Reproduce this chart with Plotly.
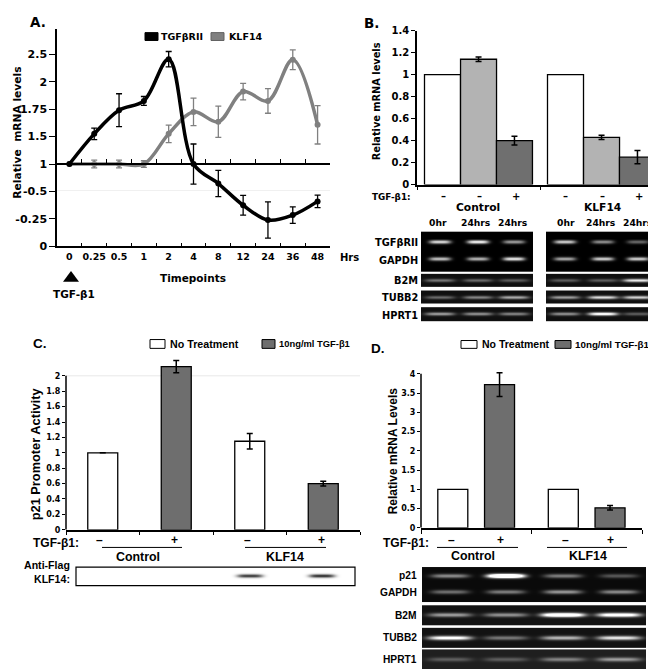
import numpy as np
import plotly.graph_objects as go

W, H = 656, 669
FA = "DejaVu Sans"
FC = "Liberation Sans, Arial, sans-serif"

# ---------------- data ----------------
# Panel A (values in plotted axis units; tick labels as printed on the figure)
timepoints = ["0", "0.25", "0.5", "1", "2", "4", "8", "12", "24", "36", "48"]
a_tick_vals = [0, 1, 2, 3, 4, 5, 6, 7]
a_tick_text = ["0", "-0.25", "-0.5", "1", "1.5", "1.75", "2", "2.5"]
tgfbr2_level = [3.0, 4.1, 4.96, 5.3, 6.82, 3.0, 2.29, 1.5, 0.96, 1.14, 1.64]
tgfbr2_err = [0, 0.21, 0.6, 0.16, 0.28, 0.73, 0.48, 0.36, 0.66, 0.3, 0.23]
klf14_level = [3.0, 3.0, 3.0, 3.0, 4.1, 4.9, 4.54, 5.64, 5.3, 6.8, 4.43]
klf14_err = [0, 0.14, 0.14, 0.12, 0.32, 0.5, 0.57, 0.3, 0.45, 0.36, 0.7]

# Panel B
b_groups = ["Control", "KLF14"]
b_0hr = [1.0, 1.0]
b_24hr_minus = [1.14, 0.43]
b_24hr_minus_err = [0.02, 0.02]
b_24hr_plus = [0.40, 0.25]
b_24hr_plus_err = [0.04, 0.06]
b_lane_time = ["0hr", "24hrs", "24hrs"]
b_lane_tgf = ["–", "–", "+"]
# gel band intensities (rows x lanes)
b_gel_top_ctrl = [[0.85, 0.95, 0.6], [0.75, 0.7, 0.9]]      # TGFβRII, GAPDH
b_gel_top_klf = [[0.8, 0.55, 0.4], [0.65, 0.8, 0.8]]
b_strip_genes = ["B2M", "TUBB2", "HPRT1"]
b_strip_ctrl = [[0.4, 0.35, 0.3], [0.35, 0.45, 0.6], [0.55, 0.5, 0.45]]
b_strip_klf = [[0.3, 0.3, 0.85], [0.55, 0.8, 0.75], [0.5, 1.0, 0.3]]

# Panel C
c_cats = ["Control −", "Control +", "KLF14 −", "KLF14 +"]
c_ticks = [0, 0.2, 0.4, 0.6, 0.8, 1, 1.2, 1.4, 1.6, 1.8, 2]
c_no_treat = [1.0, None, 1.15, None]
c_no_treat_err = [None, None, 0.1, None]
c_tgf = [None, 2.12, None, 0.60]
c_tgf_err = [None, 0.08, None, 0.03]
c_blot = [0.0, 0.0, 0.85, 0.9]

# Panel D
d_groups = ["Control", "KLF14"]
d_ticks = [0, 0.5, 1, 1.5, 2, 2.5, 3, 3.5, 4]
d_no_treat = [1.0, 1.0]
d_tgf = [3.72, 0.52]
d_tgf_err = [0.31, 0.06]
d_gel_top = [[0.5, 1.6, 0.45, 0.3], [0.4, 0.45, 0.55, 0.5]]   # p21, GAPDH
d_strip_genes = ["B2M", "TUBB2", "HPRT1"]
d_strips = [[0.55, 0.5, 1.3, 1.1], [1.0, 0.4, 0.65, 0.85], [0.25, 0.25, 0.4, 0.5]]


def px(x):
    return x / W


def py(y):
    return 1 - y / H


fig = go.Figure()
annotations = []
shapes = []


def ann(text, x, y, size, family=FC, xanchor="center", yanchor="middle", angle=0):
    annotations.append(dict(text=text, x=px(x), y=py(y), xref="paper", yref="paper",
                            showarrow=False, xanchor=xanchor, yanchor=yanchor, textangle=angle,
                            borderpad=0,
                            font=dict(size=size, family=family, color="black", weight="bold")))


def rect(x0, y0, x1, y1, fill="white", line="black", lw=1):
    shapes.append(dict(type="rect", xref="paper", yref="paper", x0=px(x0), x1=px(x1),
                       y0=py(y1), y1=py(y0), fillcolor=fill, line=dict(color=line, width=lw)))


def hline(x0, x1, y, color="black", lw=1):
    shapes.append(dict(type="line", xref="paper", yref="paper", x0=px(x0), x1=px(x1),
                       y0=py(y), y1=py(y), line=dict(color=color, width=lw)))


# ---------------- Panel A ----------------
fig.add_trace(go.Scatter(
    x=timepoints, y=klf14_level, mode="lines+markers", name="KLF14",
    line=dict(color="#808080", width=3.5, shape="spline", smoothing=1.0),
    marker=dict(size=6, color="#808080"),
    error_y=dict(type="data", array=klf14_err, color="#808080", thickness=1.3, width=3),
    xaxis="x", yaxis="y", showlegend=False))
fig.add_trace(go.Scatter(
    x=timepoints, y=tgfbr2_level, mode="lines+markers", name="TGFβRII",
    line=dict(color="black", width=3.5, shape="spline", smoothing=1.0),
    marker=dict(size=6, color="black"),
    error_y=dict(type="data", array=tgfbr2_err, color="black", thickness=1.3, width=3),
    xaxis="x", yaxis="y", showlegend=False))
fig.add_trace(go.Scatter(x=timepoints, y=[None] * len(timepoints), xaxis="x2", yaxis="y",
                         showlegend=False, hoverinfo="skip", mode="markers"))

# ---------------- Panel B ----------------
b_w = 0.2927
for vals, errs, col, off in [(b_0hr, None, "white", -0.439),
                             (b_24hr_minus, b_24hr_minus_err, "#b3b3b3", -0.146),
                             (b_24hr_plus, b_24hr_plus_err, "#6f6f6f", 0.146)]:
    fig.add_trace(go.Bar(
        x=b_groups, y=vals, width=b_w, offset=off, xaxis="x3", yaxis="y3",
        marker=dict(color=col, line=dict(color="black", width=1.3)),
        error_y=dict(type="data", array=errs, color="black", thickness=1.5, width=3,
                     visible=errs is not None),
        showlegend=False))

# ---------------- Panel C ----------------
for vals, errs, col in [(c_no_treat, c_no_treat_err, "white"), (c_tgf, c_tgf_err, "#6e6e6e")]:
    fig.add_trace(go.Bar(
        x=c_cats, y=vals, width=0.408, offset=-0.204, xaxis="x4", yaxis="y4",
        marker=dict(color=col, line=dict(color="black", width=1.3)),
        error_y=dict(type="data", array=errs, color="black", thickness=1.5, width=3),
        showlegend=False))

# ---------------- Panel D ----------------
for vals, errs, col, off in [(d_no_treat, None, "white", -0.348), (d_tgf, d_tgf_err, "#6e6e6e", 0.075)]:
    fig.add_trace(go.Bar(
        x=d_groups, y=vals, width=0.2715, offset=off, xaxis="x5", yaxis="y5",
        marker=dict(color=col, line=dict(color="black", width=1.3)),
        error_y=dict(type="data", array=errs, color="black", thickness=1.5, width=3,
                     visible=errs is not None),
        showlegend=False))


# ---------------- gels (heatmaps on a pixel-space overlay axis) ----------------
def gel(x0, x1, y0, y1, lanes, rows, inten, hw, hh, bg, scale=None):
    xs = np.arange(x0, x1) + 0.5
    ys = np.arange(y0, y1) + 0.5
    X, Y = np.meshgrid(xs, ys)
    Z = np.full(X.shape, float(bg))
    for r, row in zip(rows, inten):
        for lx, I in zip(lanes, row):
            Z += I * np.exp(-((X - lx) / hw) ** 4) * np.exp(-((Y - r) / hh) ** 2)
    Z = np.clip(Z, 0, 1)
    fig.add_trace(go.Heatmap(
        x=xs, y=ys, z=Z, zmin=0, zmax=1, showscale=False, hoverinfo="skip",
        colorscale=scale or [[0, "#000000"], [1, "#ffffff"]],
        xaxis="x6", yaxis="y6"))


# B gels
b_lanes_ctrl = [432, 470, 506]
b_lanes_klf = [557, 595, 630]
gel(413, 525, 222, 263, b_lanes_ctrl, [233, 250], b_gel_top_ctrl, 11, 1.9, 0.0)
gel(538, 650, 222, 263, b_lanes_klf, [233, 250], b_gel_top_klf, 11, 1.9, 0.0)
b_strip_y = [(265, 278), (282, 295), (299, 313)]
for (s0, s1), ic, ik in zip(b_strip_y, b_strip_ctrl, b_strip_klf):
    c = (s0 + s1) / 2
    gel(413, 525, s0, s1, b_lanes_ctrl, [c], [ic], 15, 1.7, 0.06)
    gel(538, 650, s0, s1, b_lanes_klf, [c], [ik], 15, 1.7, 0.06)

# D gels
d_lanes = [442, 498, 555, 611]
gel(414, 638, 564, 600, d_lanes, [573, 590], d_gel_top, 19, 2.1, 0.04)
d_strip_y = [(603, 623), (626, 646), (648, 669)]
d_bg = [0.07, 0.07, 0.12]
for (s0, s1), iv, bg in zip(d_strip_y, d_strips, d_bg):
    gel(414, 638, s0, s1, d_lanes, [(s0 + s1) / 2], [iv], 22, 2.1, bg)

# C western blot (white background, dark bands)
gel(69, 347, 565, 583, [94, 168, 242, 314], [573], [c_blot], 13, 1.8, 0.0,
    scale=[[0, "#ffffff"], [1, "#1a1a1a"]])
rect(68, 564, 347, 583, fill="rgba(0,0,0,0)", lw=1.2)

# ---------------- layout axes ----------------
tick_font_A = dict(family=FA, size=11, color="black", weight="bold")
common = dict(showgrid=False, zeroline=False, linecolor="black", linewidth=1.5,
              tickcolor="black", tickwidth=1.2)

# C and D: bars exceed the labelled range, so axis range is a bit taller than the drawn axis line
c_top = 2.22
d_top = 4.1
layout_axes = dict(
    xaxis=dict(domain=[px(49), px(322)], anchor="y", type="category", categoryarray=timepoints,
               categoryorder="array", range=[-0.5, 10.5], showline=True, ticks="inside",
               tickson="boundaries", ticklen=4, tickangle=0,
               tickfont=dict(family=FA, size=9.5, color="black", weight="bold"), **common),
    xaxis2=dict(domain=[px(49), px(322)], anchor="free", overlaying="x", position=py(153),
                type="category", categoryarray=timepoints, categoryorder="array",
                range=[-0.5, 10.5], showline=True, ticks="inside", tickson="boundaries",
                ticklen=4, showticklabels=False, **common),
    yaxis=dict(domain=[py(237), py(15)], anchor="x", range=[0, 7.93], tickvals=a_tick_vals,
               ticktext=a_tick_text, showline=True, ticks="outside", ticklen=6,
               tickfont=tick_font_A, **common),
    xaxis3=dict(domain=[px(409), px(655)], anchor="y3", type="category", range=[-0.5, 1.5],
                showline=True, ticks="outside", tickson="boundaries", ticklen=4,
                showticklabels=False, **common),
    yaxis3=dict(domain=[py(174), py(17)], anchor="x3", range=[0, 1.4], dtick=0.2,
                showline=True, ticks="outside", ticklen=4, tickformat="~g",
                tickfont=dict(family=FA, size=10, color="black", weight="bold"), **common),
    xaxis4=dict(domain=[px(58), px(352)], anchor="y4", type="category", range=[-0.5, 3.5],
                showline=True, ticks="outside", tickson="boundaries", ticklen=3,
                showticklabels=False, **common),
    yaxis4=dict(domain=[py(526), py(526 - 78.5 * c_top)], anchor="x4", range=[0, c_top],
                tickvals=c_ticks, showline=False, ticks="outside", ticklen=3, tickformat="~g",
                tickfont=dict(family=FA, size=8, color="black", weight="bold"), **common),
    xaxis5=dict(domain=[px(413), px(634)], anchor="y5", type="category", range=[-0.5, 1.5],
                showline=True, ticks="outside", tickson="boundaries", ticklen=4,
                showticklabels=False, **common),
    yaxis5=dict(domain=[py(524), py(524 - 39.25 * d_top)], anchor="x5", range=[0, d_top],
                tickvals=d_ticks, showline=False, ticks="outside", ticklen=3, tickformat="~g",
                tickfont=dict(family=FA, size=8, color="black", weight="bold"), **common),
    xaxis6=dict(domain=[0, 1], anchor="y6", range=[0, W], visible=False, fixedrange=True),
    yaxis6=dict(domain=[0, 1], anchor="x6", range=[H, 0], visible=False, fixedrange=True),
)

# value axis lines for C and D (stop at the top labelled tick)
shapes.append(dict(type="line", xref="x4 domain", yref="y4", x0=0, x1=0, y0=0, y1=c_ticks[-1],
                   line=dict(color="black", width=1.5)))
shapes.append(dict(type="line", xref="x4 domain", yref="y4", x0=0, x1=1, y0=c_ticks[-1],
                   y1=c_ticks[-1], line=dict(color="#e8e8e8", width=1), layer="below"))
shapes.append(dict(type="line", xref="x5 domain", yref="y5", x0=0, x1=0, y0=0, y1=d_ticks[-1],
                   line=dict(color="black", width=1.5)))

# ---------------- Panel A texts ----------------
ann("A.", 30, 8, 13.5, FA)
rect(137, 19, 150, 27, fill="black")
ann("TGFβRII", 152, 23, 9.5, FA, xanchor="left")
rect(203, 19, 216, 27, fill="#808080", line="#606060")
ann("KLF14", 220, 23, 9.5, FA, xanchor="left")
ann("Relative\u00a0 mRNA levels", 10, 121, 10.7, FA, angle=-90)
ann("Hrs", 331, 248, 10, FA, xanchor="left")
ann("Timepoints", 185, 269, 10.5, FA)
shapes.append(dict(type="path", xref="paper", yref="paper",
                   path=f"M{px(55)},{py(273)} L{px(71)},{py(273)} L{px(63)},{py(262)} Z",
                   fillcolor="black", line=dict(color="black", width=0)))
ann("TGF-β1", 66, 286, 10.5, FA)
shapes.append(dict(type="line", xref="paper", yref="paper", x0=px(49), x1=px(322),
                   y0=py(180), y1=py(180), line=dict(color="#f0f0f0", width=1), layer="below"))

# ---------------- Panel B texts ----------------
ann("B.", 363, 9, 13.5, FA)
ann("Relative mRNA levels", 368, 89, 9.8, FA, angle=-90)
ann("TGF-β1:", 404, 187, 8.8, FA, xanchor="right")
b_sign_x = [435, 471, 508, 557, 594, 631]
for xx, s in zip(b_sign_x, b_lane_tgf * 2):
    ann(s, xx, 186, 10, FA)
ann("Control", 470, 197, 10.7, FA)
ann("KLF14", 594, 197, 10.7, FA)
b_time_x = [430, 468, 505, 558, 593, 630]
for xx, t in zip(b_time_x, b_lane_time * 2):
    ann(t, xx, 213, 9.2, FA)
for lab, yy in zip(["TGFβRII", "GAPDH"] + b_strip_genes, [233, 251, 272, 289, 307]):
    ann(lab, 411, yy, 9.8, FA, xanchor="right")

# ---------------- Panel C texts ----------------
ann("C.", 32, 336, 13.5, FC)
rect(142, 332, 157, 341)
ann("No Treatment", 161, 336.5, 10.7, FC, xanchor="left")
rect(254, 332, 267, 341, fill="#6e6e6e")
ann("10ng/ml TGF-β1", 270, 336.5, 9.4, FC, xanchor="left")
ann("p21 Promoter Activity", 27, 449, 12.8, FC, angle=-90)
ann("TGF-β1:", 48, 539, 12, FC)
for xx, s in zip([91, 166, 239, 313], ["–", "+", "–", "+"]):
    ann(s, xx, 536, 12, FC)
hline(94, 174, 544)
hline(237, 318, 544)
ann("Control", 130, 554, 12.4, FC)
ann("KLF14", 277, 554, 12.4, FC)
ann("Anti-Flag", 63, 562, 10.6, FC, xanchor="right")
ann("KLF14:", 63, 576, 10.6, FC, xanchor="right")

# ---------------- Panel D texts ----------------
ann("D.", 370, 341, 13.5, FC)
rect(453, 333, 469, 341)
ann("No Treatment", 473, 337, 10.5, FC, xanchor="left")
rect(547, 333, 563, 341, fill="#6e6e6e")
ann("10ng/ml TGF-β1", 566, 337, 9.8, FC, xanchor="left")
ann("Relative mRNA Levels", 385, 446, 12, FC, angle=-90)
ann("TGF-β1:", 398, 539, 12, FC)
for xx, s in zip([443, 492, 557, 602], ["–", "+", "–", "+"]):
    ann(s, xx, 536, 12, FC)
hline(429, 510, 544)
hline(539, 619, 544)
ann("Control", 465, 553, 12.4, FC)
ann("KLF14", 580, 553, 12.4, FC)
for lab, yy in zip(["p21", "GAPDH"] + d_strip_genes, [573, 590, 613, 636, 658]):
    ann(lab, 410, yy, 10.2, FC, xanchor="right")

fig.update_layout(
    width=W, height=H, margin=dict(l=0, r=0, t=0, b=0),
    paper_bgcolor="white", plot_bgcolor="rgba(0,0,0,0)",
    barmode="overlay", showlegend=False,
    annotations=annotations, shapes=shapes,
    font=dict(family=FC, color="black"),
    **layout_axes)

fig.write_html("out.html")
